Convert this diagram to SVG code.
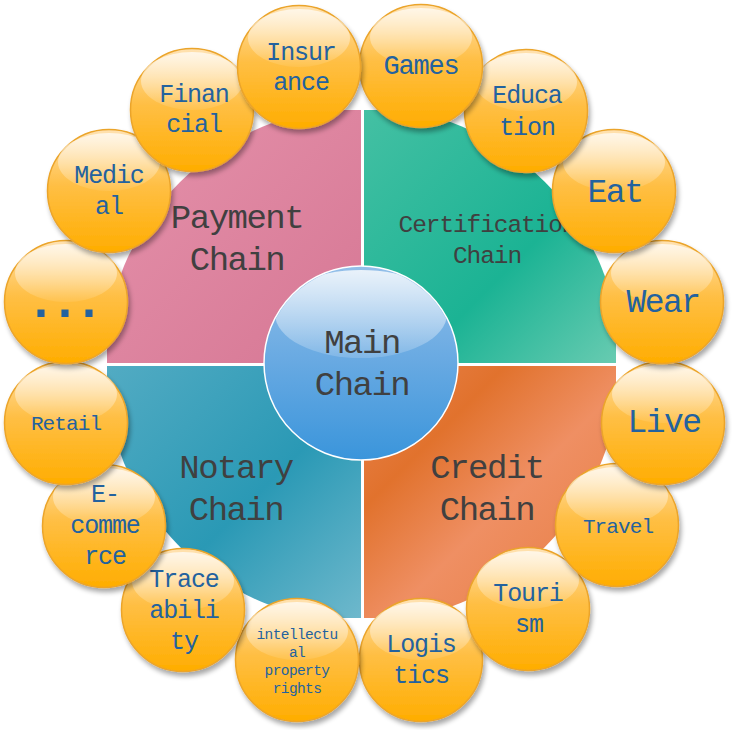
<svg xmlns="http://www.w3.org/2000/svg" xmlns:xlink="http://www.w3.org/1999/xlink" width="732" height="730" viewBox="0 0 732 730">
<defs>
<style>
.ql{font-family:"Liberation Mono","DejaVu Sans Mono",monospace;fill:#404040;text-anchor:middle;font-size:34px;letter-spacing:-1.5px}
.qs{font-size:24.5px;letter-spacing:-1.1px}
.bt{font-family:"Liberation Mono","DejaVu Sans Mono",monospace;fill:#23629f;text-anchor:middle;font-size:25px;letter-spacing:-1.1px}
.bl{font-size:33px;letter-spacing:-1.5px}
.bm{font-size:21px;letter-spacing:-0.9px}
</style>
<clipPath id="qc"><circle cx="362.5" cy="364.5" r="258"/></clipPath>
<clipPath id="mc"><circle cx="361" cy="363" r="96"/></clipPath>
<linearGradient id="gPink" x1="0" y1="0" x2="1" y2="1"><stop offset="0" stop-color="#e592ab"/><stop offset="1" stop-color="#d67794"/></linearGradient>
<linearGradient id="gGreen" x1="0" y1="0" x2="1" y2="1"><stop offset="0" stop-color="#44c0a3"/><stop offset="0.6" stop-color="#1bb394"/><stop offset="1" stop-color="#68cbb1"/></linearGradient>
<linearGradient id="gTeal" x1="0" y1="0" x2="1" y2="1"><stop offset="0" stop-color="#52abc3"/><stop offset="0.55" stop-color="#2a99b5"/><stop offset="1" stop-color="#6eb8cc"/></linearGradient>
<linearGradient id="gOrange" x1="0" y1="0" x2="1" y2="1"><stop offset="0" stop-color="#e98450"/><stop offset="0.28" stop-color="#e1722d"/><stop offset="0.55" stop-color="#ef8f63"/><stop offset="0.8" stop-color="#ea844e"/><stop offset="1" stop-color="#ee8b5c"/></linearGradient>
<linearGradient id="gMain" x1="0" y1="0" x2="0" y2="1"><stop offset="0" stop-color="#93bfe9"/><stop offset="0.5" stop-color="#67a9e2"/><stop offset="1" stop-color="#3a95db"/></linearGradient>
<linearGradient id="gMainHi" x1="0" y1="0" x2="0" y2="1"><stop offset="0" stop-color="#ffffff" stop-opacity="0.8"/><stop offset="1" stop-color="#ffffff" stop-opacity="0.15"/></linearGradient>
<linearGradient id="gBub" x1="0" y1="0" x2="0" y2="1"><stop offset="0" stop-color="#ffe2b2"/><stop offset="0.45" stop-color="#ffbf45"/><stop offset="1" stop-color="#ffad00"/></linearGradient>
<linearGradient id="gBubHi" x1="0" y1="0" x2="0" y2="1"><stop offset="0" stop-color="#ffffff" stop-opacity="0.72"/><stop offset="1" stop-color="#ffffff" stop-opacity="0.08"/></linearGradient>
<filter id="sh" x="-25%" y="-25%" width="155%" height="160%">
<feGaussianBlur in="SourceAlpha" stdDeviation="2.5"/>
<feOffset dx="2" dy="4" result="o"/>
<feComponentTransfer><feFuncA type="linear" slope="0.35"/></feComponentTransfer>
<feMerge><feMergeNode/><feMergeNode in="SourceGraphic"/></feMerge>
</filter>
<g id="bubble">
<circle cx="0" cy="0" r="61.5" fill="url(#gBub)" stroke="#eba42a" stroke-width="1.5" filter="url(#sh)"/>
<ellipse cx="0" cy="-29" rx="51" ry="29" fill="url(#gBubHi)"/>
</g>
</defs>
<rect width="732" height="730" fill="#ffffff"/>

<g id="quadrants" clip-path="url(#qc)">
<g id="payment-chain">
<rect x="107" y="110" width="254" height="253" fill="url(#gPink)"/>
<text class="ql" x="237" y="228">Payment</text>
<text class="ql" x="237" y="270">Chain</text>
</g>
<g id="certification-chain">
<rect x="364" y="110" width="252" height="253" fill="url(#gGreen)"/>
<text class="ql qs" x="487" y="232">Certification</text>
<text class="ql qs" x="487" y="263">Chain</text>
</g>
<g id="notary-chain">
<rect x="107" y="366" width="254" height="252" fill="url(#gTeal)"/>
<text class="ql" x="236" y="478">Notary</text>
<text class="ql" x="236" y="520">Chain</text>
</g>
<g id="credit-chain">
<rect x="364" y="366" width="252" height="252" fill="url(#gOrange)"/>
<text class="ql" x="487" y="478">Credit</text>
<text class="ql" x="487" y="520">Chain</text>
</g>
</g>

<g id="main-chain">
<circle cx="361" cy="363" r="97" fill="url(#gMain)" stroke="#ffffff" stroke-width="1.5"/>
<ellipse cx="361" cy="314" rx="86" ry="44" fill="url(#gMainHi)" clip-path="url(#mc)"/>
<text class="ql" x="362" y="353">Main</text>
<text class="ql" x="362" y="395">Chain</text>
</g>

<g id="connectors"/>

<g id="bubbles">
<g id="n-logistics"><use href="#bubble" x="421" y="660"/><text class="bt" x="421" y="652">Logis</text><text class="bt" x="421" y="683">tics</text></g>
<g id="n-ipr"><use href="#bubble" x="297" y="660"/><text class="bt" x="297" y="639" style="font-size:14.5px;letter-spacing:-0.6px">intellectu</text><text class="bt" x="297" y="657" style="font-size:14.5px;letter-spacing:-0.6px">al</text><text class="bt" x="297" y="675" style="font-size:14.5px;letter-spacing:-0.6px">property</text><text class="bt" x="297" y="693" style="font-size:14.5px;letter-spacing:-0.6px">rights</text></g>
<g id="n-tourism"><use href="#bubble" x="528" y="609"/><text class="bt" x="528" y="601">Touri</text><text class="bt" x="529" y="632">sm</text></g>
<g id="n-traceability"><use href="#bubble" x="183" y="610"/><text class="bt" x="184" y="587">Trace</text><text class="bt" x="184" y="618">abili</text><text class="bt" x="184" y="649">ty</text></g>
<g id="n-travel"><use href="#bubble" x="617" y="525"/><text class="bt bm" x="618" y="533">Travel</text></g>
<g id="n-ecommerce"><use href="#bubble" x="104" y="526"/><text class="bt" x="105" y="502">E-</text><text class="bt" x="105" y="533">comme</text><text class="bt" x="105" y="564">rce</text></g>
<g id="n-live"><use href="#bubble" x="663" y="423"/><text class="bt bl" x="664" y="432">Live</text></g>
<g id="n-retail"><use href="#bubble" x="66" y="423"/><text class="bt bm" x="66" y="430">Retail</text></g>
<g id="n-wear"><use href="#bubble" x="662" y="302"/><text class="bt bl" x="663" y="312">Wear</text></g>
<g id="n-more"><use href="#bubble" x="66" y="302"/><text class="bt" x="62" y="317" style="font-size:50px;letter-spacing:-6px;font-weight:bold">...</text></g>
<g id="n-eat"><use href="#bubble" x="614" y="191"/><text class="bt bl" x="615" y="202">Eat</text></g>
<g id="n-medical"><use href="#bubble" x="109" y="191"/><text class="bt" x="109" y="183">Medic</text><text class="bt" x="109" y="214">al</text></g>
<g id="n-education"><use href="#bubble" x="526" y="111"/><text class="bt" x="527" y="103">Educa</text><text class="bt" x="527" y="135">tion</text></g>
<g id="n-financial"><use href="#bubble" x="192" y="110"/><text class="bt" x="194" y="102">Finan</text><text class="bt" x="194" y="132">cial</text></g>
<g id="n-games"><use href="#bubble" x="421" y="66"/><text class="bt" x="421" y="74" style="font-size:27px;letter-spacing:-1.2px">Games</text></g>
<g id="n-insurance"><use href="#bubble" x="299" y="67"/><text class="bt" x="301" y="60">Insur</text><text class="bt" x="301" y="90">ance</text></g>
</g>
</svg>
